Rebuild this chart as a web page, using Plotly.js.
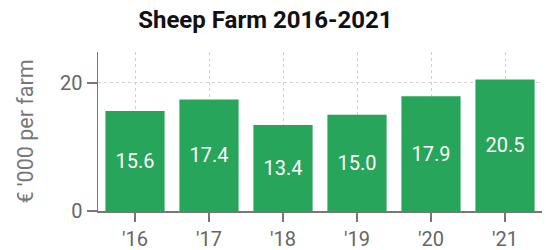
<!DOCTYPE html>
<html><head><meta charset="utf-8">
<script src="https://cdn.plot.ly/plotly-3.0.1.min.js"></script>
<style>html,body{margin:0;padding:0;background:#fff}#c{width:546px;height:250px}</style>
</head><body><div id="c"></div>
<script>
const categories = ["'16","'17","'18","'19","'20","'21"];
const values = [15.6, 17.4, 13.4, 15.0, 17.9, 20.5];
const labels = ["15.6","17.4","13.4","15.0","17.9","20.5"];
const yTicks = [0, 20];

const trace = {
  type: 'bar', x: categories, y: values, text: labels,
  textposition: 'inside', insidetextanchor: 'middle',
  textfont: {family: 'Roboto', size: 20, color: '#ffffff'},
  marker: {color: '#27a55b'}, hoverinfo: 'none', cliponaxis: false
};
const layout = {
  width: 546, height: 250,
  margin: {l: 98, r: 4, t: 52, b: 39},
  paper_bgcolor: '#fff', plot_bgcolor: '#fff',
  bargap: 0.2,
  font: {family: 'Roboto', color: '#555'},
  title: {text: '<b>Sheep Farm 2016-2021</b>', font: {family: 'Roboto', size: 24, color: '#111'},
          x: 0.486, xref: 'container', y: 0.92, yref: 'container', xanchor: 'center', yanchor: 'middle'},
  xaxis: {type: 'category', range: [-0.5, 5.5], showline: true, linecolor: '#777', linewidth: 1.5,
          ticks: 'outside', ticklen: 9, tickcolor: '#777', tickwidth: 1.5,
          showgrid: true, gridcolor: '#d0d0d0', griddash: '3px,3px', gridwidth: 1,
          tickfont: {family: 'Roboto', size: 20, color: '#666'}},
  yaxis: {range: [0, 24.8], tickvals: yTicks, ticktext: yTicks.map(String), showline: true, linecolor: '#777', linewidth: 1.5,
          ticks: 'outside', ticklen: 10, tickcolor: '#777', tickwidth: 1.5,
          showgrid: true, gridcolor: '#d0d0d0', griddash: '3px,3px', gridwidth: 1, zeroline: false,
          tickfont: {family: 'Roboto', size: 20, color: '#666'},
          title: {text: "€ '000 per farm", font: {family: 'Roboto', size: 21.5, color: '#777'}, standoff: 20}},
  showlegend: false
};
Plotly.newPlot('c', [trace], layout, {displayModeBar: false, staticPlot: true});
</script></body></html>
